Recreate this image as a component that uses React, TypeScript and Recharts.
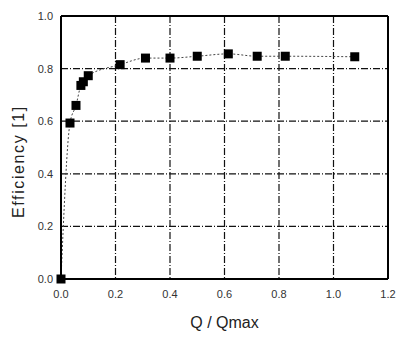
import { LineChart, Line, XAxis, YAxis, CartesianGrid, ReferenceLine } from "recharts";

// Q / Qmax ratio and measured efficiency
const qRatio = [0, 0.033, 0.055, 0.073, 0.082, 0.1, 0.217, 0.31, 0.4, 0.5, 0.614, 0.72, 0.823, 1.078];
const efficiency = [0, 0.593, 0.66, 0.736, 0.75, 0.773, 0.815, 0.84, 0.84, 0.847, 0.856, 0.847, 0.847, 0.845];

const xTicks = [0, 0.2, 0.4, 0.6, 0.8, 1.0, 1.2];
const yTicks = [0, 0.2, 0.4, 0.6, 0.8, 1.0];

const data = qRatio.map((q, i) => ({ q, eff: efficiency[i] }));

const font = "Liberation Sans, Arial";

const SquareDot = (props: any) => {
    const { cx, cy, index } = props;
    if (cx == null || cy == null) return null;
    return <rect key={index} x={cx - 4.5} y={cy - 4.5} width={9} height={9} fill="#000" />;
};

const YLabel = (props: any) => {
    const vb = props.viewBox || {};
    const x = 18;
    const y = vb.y + vb.height / 2 + 14;
    return (
        <text x={x} y={y} transform={`rotate(-90 ${x} ${y})`} textAnchor="middle" dominantBaseline="central"
              fill="#222" fontSize={16} fontFamily={font} letterSpacing={1.6}>
            Efficiency [1]
        </text>
    );
};

export default function App() {
    return (
        <div style={{ position: "fixed", left: 0, top: 0, width: 396, height: 338, background: "#fff" }}>
            <LineChart
                width={396}
                height={338}
                data={data}
                margin={{ top: 16, right: 8, bottom: 29, left: 21 }}
            >
                <CartesianGrid stroke="#111" strokeDasharray="7 2 1 2" strokeWidth={1.2} />
                <XAxis
                    dataKey="q"
                    type="number"
                    domain={[0, 1.2]}
                    ticks={xTicks}
                    tickFormatter={(v: number) => v.toFixed(1)}
                    height={30}
                    axisLine={{ stroke: "#000", strokeWidth: 2 }}
                    tickLine={false}
                    tick={{ fill: "#333", fontSize: 11, fontFamily: font, dy: 3 }}
                    label={{ value: "Q / Qmax", position: "insideBottom", offset: -19, fill: "#222", fontSize: 16, fontFamily: font }}
                />
                <YAxis
                    type="number"
                    domain={[0, 1]}
                    ticks={yTicks}
                    tickFormatter={(v: number) => v.toFixed(1)}
                    width={40}
                    axisLine={{ stroke: "#000", strokeWidth: 2 }}
                    tickLine={false}
                    tick={{ fill: "#333", fontSize: 11, fontFamily: font }}
                    label={<YLabel />}
                />
                <ReferenceLine y={1} stroke="#000" strokeWidth={2} />
                <ReferenceLine x={1.2} stroke="#000" strokeWidth={2} />
                <Line
                    type="monotone"
                    dataKey="eff"
                    stroke="#444"
                    strokeWidth={1}
                    strokeDasharray="2 2"
                    dot={<SquareDot />}
                    activeDot={false}
                    isAnimationActive={false}
                />
            </LineChart>
        </div>
    );
}
